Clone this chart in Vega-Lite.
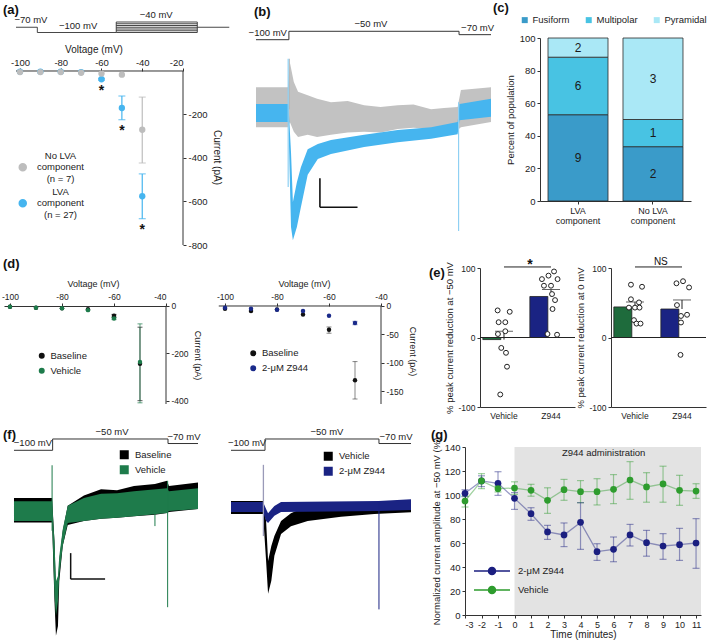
{
"$schema":"https://vega.github.io/schema/vega-lite/v6.json",
"background":"white",
"padding":{"left":1,"top":2,"right":2,"bottom":2},
"config":{
"font":"Liberation Sans",
"view":{"stroke":null},
"axis":{"labelFontSize":9.5,"titleFontSize":10,"titleFontWeight":"normal","labelColor":"#222","titleColor":"#222","domainColor":"#333","tickColor":"#333","grid":false,"tickSize":3,"labelPadding":2,"labelFont":"Liberation Sans","titleFont":"Liberation Sans","labelOverlap":false},
"legend":{"labelFont":"Liberation Sans","labelFontSize":9.5,"labelColor":"#222","padding":0,"titlePadding":0,"symbolOpacity":1},
"title":{"font":"Liberation Sans","fontSize":13,"fontWeight":"bold","anchor":"start","frame":"group","color":"#111"},
"text":{"font":"Liberation Sans","color":"#222"}
},
"datasets":{
"a_seg":[{"t1":0,"t2":100,"v1":-70,"v2":-70},{"t1":100,"t2":100,"v1":-70,"v2":-100},{"t1":100,"t2":470,"v1":-100,"v2":-100},{"t1":470,"t2":850,"v1":-100,"v2":-100},{"t1":470,"t2":850,"v1":-90,"v2":-90},{"t1":470,"t2":850,"v1":-80,"v2":-80},{"t1":470,"t2":850,"v1":-70,"v2":-70},{"t1":470,"t2":850,"v1":-60,"v2":-60},{"t1":470,"t2":850,"v1":-50,"v2":-50},{"t1":470,"t2":850,"v1":-40,"v2":-40},{"t1":470,"t2":470,"v1":-100,"v2":-40},{"t1":850,"t2":850,"v1":-100,"v2":-40},{"t1":850,"t2":1000,"v1":-70,"v2":-70}],
"a_lab":[{"t":70,"v":-70,"label":"−70 mV"},{"t":291,"v":-100,"label":"−100 mV"},{"t":657,"v":-40,"label":"−40 mV"}],
"a_iv":[
{"mv":-100,"grp":"LVA|component|(n = 27)","pa":-3},{"mv":-90,"grp":"LVA|component|(n = 27)","pa":-3},{"mv":-80,"grp":"LVA|component|(n = 27)","pa":-3},{"mv":-70,"grp":"LVA|component|(n = 27)","pa":-5},
{"mv":-60,"grp":"LVA|component|(n = 27)","pa":-38,"lo":-42,"hi":-34,"sig":true},
{"mv":-50,"grp":"LVA|component|(n = 27)","pa":-170,"lo":-224,"hi":-115,"sig":true},
{"mv":-40,"grp":"LVA|component|(n = 27)","pa":-576,"lo":-679,"hi":-473,"sig":true},
{"mv":-100,"grp":"No LVA|component|(n = 7)","pa":-5},{"mv":-90,"grp":"No LVA|component|(n = 7)","pa":-5},{"mv":-80,"grp":"No LVA|component|(n = 7)","pa":-5},{"mv":-70,"grp":"No LVA|component|(n = 7)","pa":-8},{"mv":-60,"grp":"No LVA|component|(n = 7)","pa":-12},{"mv":-50,"grp":"No LVA|component|(n = 7)","pa":-17},
{"mv":-40,"grp":"No LVA|component|(n = 7)","pa":-270,"lo":-423,"hi":-120}],
"b_seg":[{"t1":0,"t2":140,"v1":-100,"v2":-100},{"t1":140,"t2":140,"v1":-100,"v2":-50},{"t1":140,"t2":864,"v1":-50,"v2":-50},{"t1":864,"t2":864,"v1":-50,"v2":-70},{"t1":864,"t2":1000,"v1":-70,"v2":-70}],
"b_lab":[{"t":50,"v":-100,"label":"−100 mV"},{"t":489,"v":-50,"label":"−50 mV"},{"t":943,"v":-70,"label":"−70 mV"}],
"b_gray":[{"t":0,"hi":48,"lo":-21},{"t":136,"hi":48,"lo":-21},{"t":144,"hi":91,"lo":-12},{"t":161,"hi":57,"lo":-29},{"t":179,"hi":40,"lo":-38},{"t":220,"hi":34,"lo":-34},{"t":260,"hi":28,"lo":-38},{"t":319,"hi":22,"lo":-34},{"t":390,"hi":24,"lo":-30},{"t":460,"hi":17,"lo":-29},{"t":530,"hi":14,"lo":-30},{"t":603,"hi":17,"lo":-24},{"t":670,"hi":18,"lo":-22},{"t":745,"hi":10,"lo":-24},{"t":800,"hi":12,"lo":-27},{"t":858,"hi":14,"lo":-26},{"t":872,"hi":43,"lo":-21},{"t":1000,"hi":48,"lo":-12}],
"b_blue":[{"t":0,"hi":19,"lo":-12},{"t":138,"hi":19,"lo":-12},{"t":149,"hi":-64,"lo":-193},{"t":157,"hi":-150,"lo":-216},{"t":174,"hi":-116,"lo":-193},{"t":191,"hi":-90,"lo":-159},{"t":220,"hi":-59,"lo":-103},{"t":263,"hi":-50,"lo":-76},{"t":319,"hi":-43,"lo":-67},{"t":460,"hi":-34,"lo":-55},{"t":603,"hi":-26,"lo":-47},{"t":745,"hi":-21,"lo":-41},{"t":858,"hi":-12,"lo":-33},{"t":866,"hi":19,"lo":-9},{"t":1000,"hi":28,"lo":-3}],
"b_spk":[{"t":137,"cond":"LVA","i1":97,"i2":-124},{"t":142,"cond":"No LVA","i1":97,"i2":10},{"t":862,"cond":"LVA","i1":22,"i2":-200}],
"b_bar":[{"t1":272,"t2":272,"i1":-109,"i2":-159},{"t1":272,"t2":432,"i1":-159,"i2":-159}],
"c":[{"group":"LVA component","cell":"Fusiform","count":9,"pct":52.94},{"group":"LVA component","cell":"Multipolar","count":6,"pct":35.29},{"group":"LVA component","cell":"Pyramidal","count":2,"pct":11.77},{"group":"No LVA component","cell":"Fusiform","count":2,"pct":33.33},{"group":"No LVA component","cell":"Multipolar","count":1,"pct":16.67},{"group":"No LVA component","cell":"Pyramidal","count":3,"pct":50}],
"d1":[{"mv":-100,"cond":"Baseline","pa":-4},{"mv":-90,"cond":"Baseline","pa":-8},{"mv":-80,"cond":"Baseline","pa":-10},{"mv":-70,"cond":"Baseline","pa":-14},{"mv":-60,"cond":"Baseline","pa":-42,"lo":-48,"hi":-36},{"mv":-50,"cond":"Baseline","pa":-244,"lo":-400,"hi":-90},
{"mv":-100,"cond":"Vehicle","pa":-4},{"mv":-90,"cond":"Vehicle","pa":-8},{"mv":-80,"cond":"Vehicle","pa":-10},{"mv":-70,"cond":"Vehicle","pa":-18},{"mv":-60,"cond":"Vehicle","pa":-53,"lo":-58,"hi":-48},{"mv":-50,"cond":"Vehicle","pa":-237,"lo":-409,"hi":-76}],
"d2":[{"mv":-100,"cond":"Baseline","pa":-5},{"mv":-90,"cond":"Baseline","pa":-9},{"mv":-80,"cond":"Baseline","pa":-6},{"mv":-70,"cond":"Baseline","pa":-15},{"mv":-60,"cond":"Baseline","pa":-42,"lo":-48,"hi":-37},{"mv":-50,"cond":"Baseline","pa":-131,"lo":-164,"hi":-98},
{"mv":-100,"cond":"2-μM Z944","pa":-3},{"mv":-90,"cond":"2-μM Z944","pa":-5},{"mv":-80,"cond":"2-μM Z944","pa":-6.5},{"mv":-70,"cond":"2-μM Z944","pa":-9},{"mv":-60,"cond":"2-μM Z944","pa":-17},{"mv":-50,"cond":"2-μM Z944","pa":-30,"lo":-33,"hi":-27}],
"e_bar":[{"panel":"L","grp":"Vehicle","mean":-3,"cap":9},{"panel":"L","grp":"Z944","mean":59,"cap":69},{"panel":"R","grp":"Vehicle","mean":44,"cap":51},{"panel":"R","grp":"Z944","mean":41,"cap":54}],
"e_dot":[
{"panel":"L","grp":"Vehicle","val":39,"jit":-6.3},{"panel":"L","grp":"Vehicle","val":37,"jit":5.7},{"panel":"L","grp":"Vehicle","val":22,"jit":-5.3},{"panel":"L","grp":"Vehicle","val":22,"jit":1.3},{"panel":"L","grp":"Vehicle","val":5,"jit":-6},{"panel":"L","grp":"Vehicle","val":9,"jit":1.3},{"panel":"L","grp":"Vehicle","val":-15,"jit":-2.7},{"panel":"L","grp":"Vehicle","val":-22,"jit":2},{"panel":"L","grp":"Vehicle","val":-42,"jit":3},{"panel":"L","grp":"Vehicle","val":-82,"jit":-3.7},
{"panel":"L","grp":"Z944","val":95,"jit":3},{"panel":"L","grp":"Z944","val":89,"jit":-2.5},{"panel":"L","grp":"Z944","val":84,"jit":6.5},{"panel":"L","grp":"Z944","val":84,"jit":-9},{"panel":"L","grp":"Z944","val":74.5,"jit":-7},{"panel":"L","grp":"Z944","val":74.5,"jit":0},{"panel":"L","grp":"Z944","val":62.5,"jit":1},{"panel":"L","grp":"Z944","val":53.8,"jit":4},{"panel":"L","grp":"Z944","val":41,"jit":1.5},{"panel":"L","grp":"Z944","val":5,"jit":-3.5},{"panel":"L","grp":"Z944","val":4,"jit":6},
{"panel":"R","grp":"Vehicle","val":76,"jit":-4},{"panel":"R","grp":"Vehicle","val":73,"jit":7},{"panel":"R","grp":"Vehicle","val":55,"jit":-4},{"panel":"R","grp":"Vehicle","val":50.5,"jit":4},{"panel":"R","grp":"Vehicle","val":43,"jit":-6},{"panel":"R","grp":"Vehicle","val":43,"jit":0},{"panel":"R","grp":"Vehicle","val":43,"jit":4.5},{"panel":"R","grp":"Vehicle","val":25,"jit":-1},{"panel":"R","grp":"Vehicle","val":20,"jit":1.5},{"panel":"R","grp":"Vehicle","val":20,"jit":5.5},
{"panel":"R","grp":"Z944","val":78,"jit":-5.5},{"panel":"R","grp":"Z944","val":81,"jit":1},{"panel":"R","grp":"Z944","val":72,"jit":7},{"panel":"R","grp":"Z944","val":46.6,"jit":-5},{"panel":"R","grp":"Z944","val":31,"jit":-1},{"panel":"R","grp":"Z944","val":32.7,"jit":5},{"panel":"R","grp":"Z944","val":21.6,"jit":-1},{"panel":"R","grp":"Z944","val":-25,"jit":-1.5}],
"f1_seg":[{"t1":0,"t2":210,"v1":-100,"v2":-100},{"t1":210,"t2":210,"v1":-100,"v2":-50},{"t1":210,"t2":837,"v1":-50,"v2":-50},{"t1":837,"t2":837,"v1":-50,"v2":-70},{"t1":837,"t2":1000,"v1":-70,"v2":-70}],
"f1_lab":[{"t":103,"v":-100,"label":"−100 mV"},{"t":533,"v":-50,"label":"−50 mV"},{"t":924,"v":-70,"label":"−70 mV"}],
"f1_tr":[
{"t":0,"cond":"Baseline","hi":25,"lo":-22},{"t":207,"cond":"Baseline","hi":25,"lo":-22},{"t":220,"cond":"Baseline","hi":-58,"lo":-173},{"t":228,"cond":"Baseline","hi":-154,"lo":-240},{"t":239,"cond":"Baseline","hi":-144,"lo":-221},{"t":246,"cond":"Baseline","hi":-96,"lo":-135},{"t":265,"cond":"Baseline","hi":-38,"lo":-67},{"t":292,"cond":"Baseline","hi":10,"lo":-27},{"t":380,"cond":"Baseline","hi":30,"lo":-19},{"t":473,"cond":"Baseline","hi":42,"lo":-15},{"t":560,"cond":"Baseline","hi":40,"lo":-13},{"t":652,"cond":"Baseline","hi":48,"lo":-10},{"t":766,"cond":"Baseline","hi":52,"lo":-7},{"t":832,"cond":"Baseline","hi":58,"lo":-4},{"t":842,"cond":"Baseline","hi":48,"lo":-2},{"t":1000,"cond":"Baseline","hi":55,"lo":4},
{"t":0,"cond":"Vehicle","hi":19,"lo":-19},{"t":207,"cond":"Vehicle","hi":19,"lo":-19},{"t":220,"cond":"Vehicle","hi":-58,"lo":-163},{"t":228,"cond":"Vehicle","hi":-135,"lo":-202},{"t":239,"cond":"Vehicle","hi":-125,"lo":-173},{"t":246,"cond":"Vehicle","hi":-87,"lo":-125},{"t":265,"cond":"Vehicle","hi":-35,"lo":-67},{"t":292,"cond":"Vehicle","hi":10,"lo":-23},{"t":380,"cond":"Vehicle","hi":25,"lo":-19},{"t":473,"cond":"Vehicle","hi":33,"lo":-15},{"t":560,"cond":"Vehicle","hi":34,"lo":-13},{"t":652,"cond":"Vehicle","hi":38,"lo":-10},{"t":832,"cond":"Vehicle","hi":44,"lo":-4},{"t":842,"cond":"Vehicle","hi":38,"lo":0},{"t":1000,"cond":"Vehicle","hi":44,"lo":4}],
"f1_spk":[{"t":207,"i1":88,"i2":-38},{"t":835,"i1":58,"i2":-185},{"t":766,"i1":0,"i2":-29}],
"f1_bar":[{"t1":308,"t2":308,"i1":-81,"i2":-131},{"t1":308,"t2":495,"i1":-131,"i2":-131}],
"f2_seg":[{"t1":0,"t2":189,"v1":-100,"v2":-100},{"t1":189,"t2":189,"v1":-100,"v2":-50},{"t1":189,"t2":822,"v1":-50,"v2":-50},{"t1":822,"t2":822,"v1":-50,"v2":-70},{"t1":822,"t2":1000,"v1":-70,"v2":-70}],
"f2_lab":[{"t":89,"v":-100,"label":"−100 mV"},{"t":533,"v":-50,"label":"−50 mV"},{"t":917,"v":-70,"label":"−70 mV"}],
"f2_tr":[
{"t":0,"cond":"Vehicle","hi":13.5,"lo":-11.5},{"t":178,"cond":"Vehicle","hi":13.5,"lo":-11.5},{"t":195,"cond":"Vehicle","hi":-25,"lo":-102},{"t":206,"cond":"Vehicle","hi":-102,"lo":-165},{"t":224,"cond":"Vehicle","hi":-73,"lo":-140},{"t":241,"cond":"Vehicle","hi":-54,"lo":-92},{"t":278,"cond":"Vehicle","hi":-25,"lo":-50},{"t":333,"cond":"Vehicle","hi":-10,"lo":-35},{"t":426,"cond":"Vehicle","hi":4,"lo":-25},{"t":611,"cond":"Vehicle","hi":8,"lo":-17},{"t":796,"cond":"Vehicle","hi":11.5,"lo":-11.5},{"t":1000,"cond":"Vehicle","hi":13.5,"lo":-8},
{"t":0,"cond":"2-μM Z944","hi":11.5,"lo":-7.7},{"t":178,"cond":"2-μM Z944","hi":11.5,"lo":-7.7},{"t":195,"cond":"2-μM Z944","hi":-2,"lo":-25},{"t":206,"cond":"2-μM Z944","hi":-10,"lo":-29},{"t":241,"cond":"2-μM Z944","hi":4,"lo":-15},{"t":278,"cond":"2-μM Z944","hi":11.5,"lo":-7.7},{"t":820,"cond":"2-μM Z944","hi":13.5,"lo":-5.8},{"t":1000,"cond":"2-μM Z944","hi":17,"lo":-4}],
"f2_spk":[{"t":180,"cond":"gray","i1":83,"i2":-54},{"t":822,"cond":"navy","i1":13,"i2":-195}],
"g":[
{"min":-3,"cond":"2-μM Z944","mean":101.4,"lo":98.6,"hi":104.4},{"min":-2,"cond":"2-μM Z944","mean":111.7,"lo":107,"hi":116},{"min":-1,"cond":"2-μM Z944","mean":109.7,"lo":99.7,"hi":119.4},{"min":0,"cond":"2-μM Z944","mean":97.2,"lo":88,"hi":102},{"min":1,"cond":"2-μM Z944","mean":84.4,"lo":78.9,"hi":89.4},{"min":2,"cond":"2-μM Z944","mean":69.2,"lo":63,"hi":74.7},{"min":3,"cond":"2-μM Z944","mean":66.7,"lo":57,"hi":76.7},{"min":4,"cond":"2-μM Z944","mean":77.2,"lo":54.7,"hi":93.6},{"min":5,"cond":"2-μM Z944","mean":52.8,"lo":45.5,"hi":59.4},{"min":6,"cond":"2-μM Z944","mean":54.7,"lo":44.4,"hi":65},{"min":7,"cond":"2-μM Z944","mean":66.7,"lo":57.5,"hi":75.5},{"min":8,"cond":"2-μM Z944","mean":60.3,"lo":49,"hi":70.5},{"min":9,"cond":"2-μM Z944","mean":57.5,"lo":46.4,"hi":67.8},{"min":10,"cond":"2-μM Z944","mean":58.6,"lo":45.5,"hi":72.2},{"min":11,"cond":"2-μM Z944","mean":60,"lo":38.9,"hi":80.3},
{"min":-3,"cond":"Vehicle","mean":95,"lo":90,"hi":99},{"min":-2,"cond":"Vehicle","mean":111.7,"lo":105.3,"hi":117.8},{"min":-1,"cond":"Vehicle","mean":105.3,"lo":102.5,"hi":107.5},{"min":0,"cond":"Vehicle","mean":105.8,"lo":100.5,"hi":111},{"min":1,"cond":"Vehicle","mean":103.9,"lo":99,"hi":108.9},{"min":2,"cond":"Vehicle","mean":95.6,"lo":84.7,"hi":106},{"min":3,"cond":"Vehicle","mean":104.4,"lo":95.6,"hi":113},{"min":4,"cond":"Vehicle","mean":102.8,"lo":93.6,"hi":112},{"min":5,"cond":"Vehicle","mean":102.8,"lo":91.7,"hi":113.6},{"min":6,"cond":"Vehicle","mean":104.7,"lo":92.8,"hi":117},{"min":7,"cond":"Vehicle","mean":112.5,"lo":96.4,"hi":127.8},{"min":8,"cond":"Vehicle","mean":106.7,"lo":94,"hi":118.6},{"min":9,"cond":"Vehicle","mean":109.2,"lo":94,"hi":124},{"min":10,"cond":"Vehicle","mean":103.9,"lo":91.4,"hi":116.4},{"min":11,"cond":"Vehicle","mean":103.3,"lo":97.2,"hi":109.4}]
},
"spacing":6,
"resolve":{"scale":{"color":"independent"},"legend":{"color":"independent"}},
"vconcat":[
{"hconcat":[
 {"width":179,"height":207,
  "title":{"text":"(a)","dx":-1,"offset":-7},
  "resolve":{"scale":{"x":"independent","y":"independent"},"axis":{"x":"independent","y":"independent"}},
  "layer":[
   {"layer":[
    {"data":{"name":"a_seg"},"mark":{"type":"rule","color":"#333","strokeWidth":0.9},
     "encoding":{"x":{"field":"t1","type":"quantitative","scale":{"domain":[-56.3,783],"nice":false,"zero":false},"axis":null},"x2":{"field":"t2"},
      "y":{"field":"v1","type":"quantitative","scale":{"domain":[-1314,-131.4],"nice":false,"zero":false},"axis":null},"y2":{"field":"v2"}}},
    {"data":{"name":"a_lab"},"mark":{"type":"text","fontSize":9.5,"baseline":"bottom","dy":-2},
     "encoding":{"x":{"field":"t","type":"quantitative","scale":{"domain":[-56.3,783],"nice":false,"zero":false},"axis":null},
      "y":{"field":"v","type":"quantitative","scale":{"domain":[-1314,-131.4],"nice":false,"zero":false},"axis":null},"text":{"field":"label"}}}
   ]},
   {"data":{"name":"a_iv"},
    "layer":[
     {"data":{"values":[{}]},"mark":{"type":"rule","color":"#333"},
      "encoding":{"x":{"datum":-20,"type":"quantitative","scale":{"domain":[-107.85,-20],"nice":false,"zero":false},
        "axis":{"orient":"top","offset":-33,"domain":false,"values":[-100,-80,-60,-40,-20],"labelOverlap":false,"title":"Voltage (mV)","titlePadding":3,"labelPadding":1,"labelExpr":"datum.value + ''"}},
       "y":{"datum":0,"type":"quantitative","scale":{"domain":[-800,151.7],"nice":false,"zero":false},
        "axis":{"orient":"right","values":[-800,-600,-400,-200],"labelOverlap":false,"domain":false,"title":"Current (pA)","titleY":119,"labelExpr":"datum.value + ''"}},
       "y2":{"datum":-800}}},
     {"data":{"values":[{}]},"mark":{"type":"rule","color":"#333"},
      "encoding":{"x":{"datum":-101.96,"type":"quantitative","scale":{"domain":[-107.85,-20],"nice":false,"zero":false}},"x2":{"datum":-20},
       "y":{"datum":0,"type":"quantitative","scale":{"domain":[-800,151.7],"nice":false,"zero":false}}}},
     {"transform":[{"filter":"isValid(datum.lo)"}],"mark":{"type":"errorbar","ticks":{"size":7},"thickness":1.2},
      "encoding":{"x":{"field":"mv","type":"quantitative","title":"Voltage (mV)","scale":{"domain":[-107.85,-20],"nice":false,"zero":false}},
       "y":{"field":"lo","type":"quantitative","title":"Current (pA)","scale":{"domain":[-800,151.7],"nice":false,"zero":false}},"y2":{"field":"hi"},
       "color":{"field":"grp","type":"nominal","scale":{"domain":["No LVA|component|(n = 7)","LVA|component|(n = 27)"],"range":["#bdbdbd","#46b5ef"]},
        "legend":{"orient":"none","legendX":14,"legendY":113,"title":null,"labelExpr":"split(datum.label, '|')","labelAlign":"center","labelOffset":33,"symbolSize":40,"symbolType":"M-1.107,3.64A1.107,1.107,0,1,1,1.107,3.64A1.107,1.107,0,1,1,-1.107,3.64Z","rowPadding":2,"labelLimit":0}}}},
     {"mark":{"type":"circle","size":40,"opacity":1},
      "encoding":{"x":{"field":"mv","type":"quantitative","title":"Voltage (mV)","scale":{"domain":[-107.85,-20],"nice":false,"zero":false}},
       "y":{"field":"pa","type":"quantitative","title":"Current (pA)","scale":{"domain":[-800,151.7],"nice":false,"zero":false}},
       "color":{"field":"grp","type":"nominal","scale":{"domain":["No LVA|component|(n = 7)","LVA|component|(n = 27)"],"range":["#bdbdbd","#46b5ef"]},
        "legend":{"orient":"none","legendX":14,"legendY":113,"title":null,"labelExpr":"split(datum.label, '|')","labelAlign":"center","labelOffset":33,"symbolSize":40,"symbolType":"M-1.107,3.64A1.107,1.107,0,1,1,1.107,3.64A1.107,1.107,0,1,1,-1.107,3.64Z","rowPadding":2,"labelLimit":0}}}},
     {"transform":[{"filter":"datum.sig"}],"mark":{"type":"text","text":"*","fontSize":14,"fontWeight":"bold","baseline":"top","dy":4,"color":"#111"},
      "encoding":{"x":{"field":"mv","type":"quantitative","title":"Voltage (mV)","scale":{"domain":[-107.85,-20],"nice":false,"zero":false}},
       "y":{"field":"lo","type":"quantitative","title":"Current (pA)","scale":{"domain":[-800,151.7],"nice":false,"zero":false}}}}
    ]}
  ]},
 {"width":317,"height":207,
  "title":{"text":"(b)","dx":51,"offset":0},
  "resolve":{"scale":{"y":"independent"}},
  "layer":[
   {"layer":[
    {"data":{"name":"b_seg"},"mark":{"type":"rule","color":"#333","strokeWidth":1},
     "encoding":{"x":{"field":"t1","type":"quantitative","scale":{"domain":[-225.5,1123.4],"nice":false,"zero":false},"axis":null},"x2":{"field":"t2"},
      "y":{"field":"v1","type":"quantitative","scale":{"domain":[-1322,-89.9],"nice":false,"zero":false},"axis":null},"y2":{"field":"v2"}}},
    {"data":{"name":"b_lab"},"mark":{"type":"text","fontSize":9.5,"baseline":"bottom","dy":-2},
     "encoding":{"x":{"field":"t","type":"quantitative","scale":{"domain":[-225.5,1123.4],"nice":false,"zero":false},"axis":null},
      "y":{"field":"v","type":"quantitative","scale":{"domain":[-1322,-89.9],"nice":false,"zero":false},"axis":null},"text":{"field":"label"}}}
   ]},
   {"layer":[
    {"data":{"name":"b_gray"},"mark":{"type":"area","color":"#c2c2c2","opacity":1},
     "encoding":{"x":{"field":"t","type":"quantitative","scale":{"domain":[-225.5,1123.4],"nice":false,"zero":false},"axis":null},
      "y":{"field":"hi","type":"quantitative","stack":null,"scale":{"domain":[-224.1,132.8],"nice":false,"zero":false},"axis":null},"y2":{"field":"lo"}}},
    {"data":{"name":"b_spk"},"transform":[{"filter":"datum.cond == 'No LVA'"}],"mark":{"type":"rule","color":"#b5b5b5","strokeWidth":1},
     "encoding":{"x":{"field":"t","type":"quantitative","scale":{"domain":[-225.5,1123.4],"nice":false,"zero":false},"axis":null},
      "y":{"field":"i1","type":"quantitative","scale":{"domain":[-224.1,132.8],"nice":false,"zero":false},"axis":null},"y2":{"field":"i2"}}},
    {"data":{"name":"b_blue"},"mark":{"type":"area","color":"#46b5ef","opacity":1},
     "encoding":{"x":{"field":"t","type":"quantitative","scale":{"domain":[-225.5,1123.4],"nice":false,"zero":false},"axis":null},
      "y":{"field":"hi","type":"quantitative","stack":null,"scale":{"domain":[-224.1,132.8],"nice":false,"zero":false},"axis":null},"y2":{"field":"lo"}}},
    {"data":{"name":"b_spk"},"transform":[{"filter":"datum.cond == 'LVA'"}],"mark":{"type":"rule","color":"#8fd0f3","strokeWidth":1.2},
     "encoding":{"x":{"field":"t","type":"quantitative","scale":{"domain":[-225.5,1123.4],"nice":false,"zero":false},"axis":null},
      "y":{"field":"i1","type":"quantitative","scale":{"domain":[-224.1,132.8],"nice":false,"zero":false},"axis":null},"y2":{"field":"i2"}}},
    {"data":{"name":"b_bar"},"mark":{"type":"rule","color":"#111","strokeWidth":1.6},
     "encoding":{"x":{"field":"t1","type":"quantitative","scale":{"domain":[-225.5,1123.4],"nice":false,"zero":false},"axis":null},"x2":{"field":"t2"},
      "y":{"field":"i1","type":"quantitative","scale":{"domain":[-224.1,132.8],"nice":false,"zero":false},"axis":null},"y2":{"field":"i2"}}}
   ]}
  ]},
 {"width":151,"height":163,
  "title":{"text":"(c)","dx":-47,"offset":0},
  "data":{"name":"c"},
  "layer":[
   {"mark":{"type":"bar","stroke":"#2a2a2a","strokeWidth":0.8,"size":60},
    "encoding":{
     "x":{"field":"group","type":"nominal","scale":{"type":"band","paddingInner":0.2,"paddingOuter":0.107},
      "axis":{"title":null,"labelAngle":0,"labelExpr":"datum.label == 'LVA component' ? ['LVA', 'component'] : ['No LVA', 'component']","labelFontSize":9,"labelLineHeight":10,"tickSize":3}},
     "y":{"field":"pct","type":"quantitative","stack":"zero","scale":{"domain":[0,100],"nice":false},
      "axis":{"title":"Percent of population","values":[0,20,40,60,80,100],"labelOverlap":false,"titlePadding":4,"titleFontSize":9.5}},
     "color":{"field":"cell","type":"nominal","scale":{"domain":["Fusiform","Multipolar","Pyramidal"],"range":["#3a9bc9","#48c3e3","#aae8f6"]},
      "legend":{"orient":"none","legendX":-20,"legendY":-23,"direction":"horizontal","title":null,"symbolType":"square","symbolSize":36,"symbolStrokeWidth":0,"labelOffset":3,"columnPadding":14}},
     "order":{"field":"cell","type":"nominal","sort":"ascending"}}},
   {"transform":[
     {"stack":"pct","groupby":["group"],"sort":[{"field":"cell","order":"ascending"}],"as":["lo","hi"]},
     {"fold":["lo","hi"],"as":["edge","pos"]},
     {"aggregate":[{"op":"mean","field":"pos","as":"mid"}],"groupby":["group","cell","count"]}],
    "mark":{"type":"text","fontSize":12,"baseline":"middle","color":"#1a1a1a"},
    "encoding":{"x":{"field":"group","type":"nominal","scale":{"type":"band","paddingInner":0.2,"paddingOuter":0.107}},
     "y":{"field":"mid","type":"quantitative","title":"Percent of population","scale":{"domain":[0,100],"nice":false},"axis":{"title":"Percent of population","values":[0,20,40,60,80,100],"labelOverlap":false,"titlePadding":4,"titleFontSize":9.5}},"text":{"field":"count","type":"quantitative"}}}
  ]}
],"spacing":20,"bounds":"flush","resolve":{"scale":{"color":"independent"},"legend":{"color":"independent"}}},
{"hconcat":[
 {"width":162,"height":136,
  "title":{"text":"(d)","dx":-1,"offset":-3},
  "data":{"name":"d1"},
  "layer":[
   {"data":{"values":[{}]},"mark":{"type":"rule","color":"#333"},
    "encoding":{"x":{"datum":-40,"type":"quantitative","scale":{"domain":[-102.3,-40],"nice":false,"zero":false},
      "axis":{"orient":"top","offset":-38,"values":[-100,-80,-60,-40],"labelOverlap":false,"title":"Voltage (mV)","titleX":89,"titlePadding":4,"labelFontSize":8.5,"titleFontSize":9,"labelExpr":"datum.value + ''"}},
     "y":{"datum":0,"type":"quantitative","scale":{"domain":[-414,159.7],"nice":false,"zero":false},
      "axis":{"orient":"right","values":[0,-100,-200,-300,-400],"labelOverlap":false,"domain":false,"title":"Current (pA)","titleY":87,"labelFontSize":8.5,"titleFontSize":9,"labelExpr":"datum.value + ''"}},
     "y2":{"datum":-414}}},
   {"transform":[{"filter":"isValid(datum.lo)"}],"mark":{"type":"errorbar","ticks":{"size":5},"opacity":0.7},
    "encoding":{"x":{"field":"mv","type":"quantitative","title":"Voltage (mV)","scale":{"domain":[-102.3,-40],"nice":false,"zero":false}},
     "y":{"field":"lo","type":"quantitative","title":"Current (pA)","scale":{"domain":[-414,159.7],"nice":false,"zero":false}},"y2":{"field":"hi"},
     "color":{"field":"cond","type":"nominal","scale":{"domain":["Baseline","Vehicle"],"range":["#111111","#1e7b4b"]},
      "legend":{"orient":"none","legendX":33,"legendY":83,"title":null,"symbolType":"circle","symbolSize":20,"rowPadding":4,"labelOffset":4}}}},
   {"mark":{"type":"circle","size":20,"opacity":1},
    "encoding":{"x":{"field":"mv","type":"quantitative","title":"Voltage (mV)","scale":{"domain":[-102.3,-40],"nice":false,"zero":false}},
     "y":{"field":"pa","type":"quantitative","title":"Current (pA)","scale":{"domain":[-414,159.7],"nice":false,"zero":false}},
     "color":{"field":"cond","type":"nominal","scale":{"domain":["Baseline","Vehicle"],"range":["#111111","#1e7b4b"]},
      "legend":{"orient":"none","legendX":33,"legendY":83,"title":null,"symbolType":"circle","symbolSize":20,"rowPadding":4,"labelOffset":4}}}}
  ]},
 {"width":242,"height":136,
  "data":{"name":"d2"},
  "layer":[
   {"data":{"values":[{}]},"mark":{"type":"rule","color":"#333"},
    "encoding":{"x":{"datum":-40,"type":"quantitative","scale":{"domain":[-108.85,-15.77],"nice":false,"zero":false},
      "axis":{"orient":"top","offset":-38,"domain":false,"values":[-100,-80,-60,-40],"labelOverlap":false,"title":"Voltage (mV)","titleX":102,"titlePadding":4,"labelFontSize":8.5,"titleFontSize":9,"labelExpr":"datum.value + ''"}},
     "y":{"datum":0,"type":"quantitative","scale":{"domain":[-172.8,67],"nice":false,"zero":false},
      "axis":{"orient":"right","offset":-63,"values":[0,-50,-100,-150],"labelOverlap":false,"domain":false,"title":"Current (pA)","titleY":83,"labelFontSize":8.5,"titleFontSize":9,"labelExpr":"datum.value + ''"}},
     "y2":{"datum":-172.8}}},
   {"data":{"values":[{}]},"mark":{"type":"rule","color":"#333"},
    "encoding":{"x":{"datum":-102.4,"type":"quantitative","scale":{"domain":[-108.85,-15.77],"nice":false,"zero":false}},"x2":{"datum":-40},
     "y":{"datum":0,"type":"quantitative","scale":{"domain":[-172.8,67],"nice":false,"zero":false}}}},
   {"transform":[{"filter":"isValid(datum.lo)"}],"mark":{"type":"errorbar","ticks":{"size":5},"opacity":0.5},
    "encoding":{"x":{"field":"mv","type":"quantitative","title":"Voltage (mV)","scale":{"domain":[-108.85,-15.77],"nice":false,"zero":false}},
     "y":{"field":"lo","type":"quantitative","title":"Current (pA)","scale":{"domain":[-172.8,67],"nice":false,"zero":false}},"y2":{"field":"hi"},
     "color":{"field":"cond","type":"nominal","scale":{"domain":["Baseline","2-μM Z944"],"range":["#111111","#1a2a8a"]},
      "legend":{"orient":"none","legendX":46.5,"legendY":80.5,"title":null,"symbolType":"circle","symbolSize":20,"rowPadding":4,"labelOffset":4}}}},
   {"mark":{"type":"circle","size":20,"opacity":1},
    "encoding":{"x":{"field":"mv","type":"quantitative","title":"Voltage (mV)","scale":{"domain":[-108.85,-15.77],"nice":false,"zero":false}},
     "y":{"field":"pa","type":"quantitative","title":"Current (pA)","scale":{"domain":[-172.8,67],"nice":false,"zero":false}},
     "color":{"field":"cond","type":"nominal","scale":{"domain":["Baseline","2-μM Z944"],"range":["#111111","#1a2a8a"]},
      "legend":{"orient":"none","legendX":46.5,"legendY":80.5,"title":null,"symbolType":"circle","symbolSize":20,"rowPadding":4,"labelOffset":4}}}}
  ]},
 {"width":95,"height":139,
  "title":{"text":"(e)","dx":-51,"offset":-22},
  "layer":[
   {"data":{"name":"e_bar"},"transform":[{"filter":"datum.panel == 'L'"}],"mark":{"type":"bar","stroke":"#222","strokeWidth":0.8},
    "encoding":{"x":{"field":"grp","type":"nominal","scale":{"domain":["Vehicle","Z944"],"paddingInner":0.1,"paddingOuter":0.06},"axis":{"title":null,"labelAngle":0,"ticks":false,"labelFontSize":8.5,"labelPadding":4}},
     "y":{"field":"mean","type":"quantitative","scale":{"domain":[-100,100],"nice":false},"axis":{"values":[-100,-50,0,50,100],"labelOverlap":false,"title":"% peak current reduction at −50 mV","titleFontSize":9.5,"labelFontSize":8.5,"titlePadding":3,"labelExpr":"datum.value + ''"}},
     "color":{"field":"grp","type":"nominal","scale":{"domain":["Vehicle","Z944"],"range":["#1e6b3c","#1a2383"]},"legend":null}}},
   {"data":{"values":[{}]},"mark":{"type":"rule","color":"#222"},"encoding":{"y":{"datum":0,"type":"quantitative","scale":{"domain":[-100,100],"nice":false}}}},
   {"data":{"name":"e_bar"},"transform":[{"filter":"datum.panel == 'L'"}],"mark":{"type":"rule","color":"#222"},
    "encoding":{"x":{"field":"grp","type":"nominal","scale":{"domain":["Vehicle","Z944"],"paddingInner":0.1,"paddingOuter":0.06}},"y":{"field":"mean","type":"quantitative","scale":{"domain":[-100,100],"nice":false}},"y2":{"field":"cap"}}},
   {"data":{"name":"e_bar"},"transform":[{"filter":"datum.panel == 'L'"}],"mark":{"type":"tick","color":"#222","size":18,"thickness":1},
    "encoding":{"x":{"field":"grp","type":"nominal","scale":{"domain":["Vehicle","Z944"],"paddingInner":0.1,"paddingOuter":0.06}},"y":{"field":"cap","type":"quantitative","scale":{"domain":[-100,100],"nice":false}}}},
   {"data":{"name":"e_dot"},"transform":[{"filter":"datum.panel == 'L'"}],"mark":{"type":"point","filled":true,"fill":"white","stroke":"#222","strokeWidth":1,"size":24,"opacity":1},
    "encoding":{"x":{"field":"grp","type":"nominal","scale":{"domain":["Vehicle","Z944"],"paddingInner":0.1,"paddingOuter":0.06}},"xOffset":{"field":"jit","type":"quantitative","scale":{"domain":[-21,21]}},
     "y":{"field":"val","type":"quantitative","scale":{"domain":[-100,100],"nice":false}}}},
   {"data":{"values":[{"a":"Vehicle","b":"Z944"}]},"mark":{"type":"rule","color":"#222"},
    "encoding":{"x":{"field":"a","type":"nominal","scale":{"domain":["Vehicle","Z944"],"paddingInner":0.1,"paddingOuter":0.06}},"x2":{"field":"b"},"y":{"datum":101.5,"type":"quantitative","scale":{"domain":[-100,100],"nice":false}}}},
   {"data":{"values":[{"a":"Z944"}]},"mark":{"type":"text","text":"*","fontSize":14,"fontWeight":"bold","baseline":"middle","color":"#111"},
    "encoding":{"x":{"field":"a","type":"nominal","bandPosition":0,"scale":{"domain":["Vehicle","Z944"],"paddingInner":0.1,"paddingOuter":0.06}},"y":{"datum":105,"type":"quantitative","scale":{"domain":[-100,100],"nice":false}}}}
  ]},
 {"width":95,"height":139,
  "layer":[
   {"data":{"name":"e_bar"},"transform":[{"filter":"datum.panel == 'R'"}],"mark":{"type":"bar","stroke":"#222","strokeWidth":0.8},
    "encoding":{"x":{"field":"grp","type":"nominal","scale":{"domain":["Vehicle","Z944"],"paddingInner":0.1,"paddingOuter":0.06},"axis":{"title":null,"labelAngle":0,"ticks":false,"labelFontSize":8.5,"labelPadding":4}},
     "y":{"field":"mean","type":"quantitative","scale":{"domain":[-100,100],"nice":false},"axis":{"values":[-100,-50,0,50,100],"labelOverlap":false,"title":"% peak current reduction at 0 mV","titleFontSize":9.5,"labelFontSize":8.5,"titlePadding":3,"labelExpr":"datum.value + ''"}},
     "color":{"field":"grp","type":"nominal","scale":{"domain":["Vehicle","Z944"],"range":["#1e6b3c","#1a2383"]},"legend":null}}},
   {"data":{"values":[{}]},"mark":{"type":"rule","color":"#222"},"encoding":{"y":{"datum":0,"type":"quantitative","scale":{"domain":[-100,100],"nice":false}}}},
   {"data":{"name":"e_bar"},"transform":[{"filter":"datum.panel == 'R'"}],"mark":{"type":"rule","color":"#222"},
    "encoding":{"x":{"field":"grp","type":"nominal","scale":{"domain":["Vehicle","Z944"],"paddingInner":0.1,"paddingOuter":0.06}},"y":{"field":"mean","type":"quantitative","scale":{"domain":[-100,100],"nice":false}},"y2":{"field":"cap"}}},
   {"data":{"name":"e_bar"},"transform":[{"filter":"datum.panel == 'R'"}],"mark":{"type":"tick","color":"#222","size":18,"thickness":1},
    "encoding":{"x":{"field":"grp","type":"nominal","scale":{"domain":["Vehicle","Z944"],"paddingInner":0.1,"paddingOuter":0.06}},"y":{"field":"cap","type":"quantitative","scale":{"domain":[-100,100],"nice":false}}}},
   {"data":{"name":"e_dot"},"transform":[{"filter":"datum.panel == 'R'"}],"mark":{"type":"point","filled":true,"fill":"white","stroke":"#222","strokeWidth":1,"size":24,"opacity":1},
    "encoding":{"x":{"field":"grp","type":"nominal","scale":{"domain":["Vehicle","Z944"],"paddingInner":0.1,"paddingOuter":0.06}},"xOffset":{"field":"jit","type":"quantitative","scale":{"domain":[-21,21]}},
     "y":{"field":"val","type":"quantitative","scale":{"domain":[-100,100],"nice":false}}}},
   {"data":{"values":[{"a":"Vehicle","b":"Z944"}]},"mark":{"type":"rule","color":"#222"},
    "encoding":{"x":{"field":"a","type":"nominal","scale":{"domain":["Vehicle","Z944"],"paddingInner":0.1,"paddingOuter":0.06}},"x2":{"field":"b"},"y":{"datum":101.5,"type":"quantitative","scale":{"domain":[-100,100],"nice":false}}}},
   {"data":{"values":[{"a":"Z944"}]},"mark":{"type":"text","text":"NS","fontSize":10,"baseline":"middle","color":"#111"},
    "encoding":{"x":{"field":"a","type":"nominal","bandPosition":0,"scale":{"domain":["Vehicle","Z944"],"paddingInner":0.1,"paddingOuter":0.06}},"y":{"datum":108.7,"type":"quantitative","scale":{"domain":[-100,100],"nice":false}}}}
  ]}
],"spacing":36,"bounds":"flush","resolve":{"scale":{"color":"independent"},"legend":{"color":"independent"}}},
{"hconcat":[
 {"width":194,"height":194,
  "title":{"text":"(f)","dx":-1,"offset":-15},
  "resolve":{"scale":{"y":"independent"}},
  "layer":[
   {"layer":[
    {"data":{"name":"f1_seg"},"mark":{"type":"rule","color":"#333","strokeWidth":1},
     "encoding":{"x":{"field":"t1","type":"quantitative","scale":{"domain":[-54.3,1000],"nice":false,"zero":false},"axis":null},"x2":{"field":"t2"},
      "y":{"field":"v1","type":"quantitative","scale":{"domain":[-943.8,-85.4],"nice":false,"zero":false},"axis":null},"y2":{"field":"v2"}}},
    {"data":{"name":"f1_lab"},"mark":{"type":"text","fontSize":9.5,"baseline":"bottom","dy":-2},
     "encoding":{"x":{"field":"t","type":"quantitative","scale":{"domain":[-54.3,1000],"nice":false,"zero":false},"axis":null},
      "y":{"field":"v","type":"quantitative","scale":{"domain":[-943.8,-85.4],"nice":false,"zero":false},"axis":null},"text":{"field":"label"}}}
   ]},
   {"layer":[
    {"data":{"name":"f1_tr"},"mark":{"type":"area","opacity":1},
     "encoding":{"x":{"field":"t","type":"quantitative","scale":{"domain":[-54.3,1000],"nice":false,"zero":false},"axis":null},
      "y":{"field":"hi","type":"quantitative","stack":null,"scale":{"domain":[-250,123.1],"nice":false,"zero":false},"axis":null},"y2":{"field":"lo"},
      "color":{"field":"cond","type":"nominal","scale":{"domain":["Baseline","Vehicle"],"range":["#000000","#1e7b4b"]},
       "legend":{"orient":"none","legendX":115.5,"legendY":3,"title":null,"symbolType":"square","symbolSize":81,"symbolStrokeWidth":0,"labelOffset":6,"rowPadding":4}}}},
    {"data":{"name":"f1_spk"},"mark":{"type":"rule","color":"#1e7b4b","strokeWidth":1},
     "encoding":{"x":{"field":"t","type":"quantitative","scale":{"domain":[-54.3,1000],"nice":false,"zero":false},"axis":null},
      "y":{"field":"i1","type":"quantitative","scale":{"domain":[-250,123.1],"nice":false,"zero":false},"axis":null},"y2":{"field":"i2"}}},
    {"data":{"name":"f1_bar"},"mark":{"type":"rule","color":"#111","strokeWidth":1.5},
     "encoding":{"x":{"field":"t1","type":"quantitative","scale":{"domain":[-54.3,1000],"nice":false,"zero":false},"axis":null},"x2":{"field":"t2"},
      "y":{"field":"i1","type":"quantitative","scale":{"domain":[-250,123.1],"nice":false,"zero":false},"axis":null},"y2":{"field":"i2"}}}
   ]}
  ]},
 {"width":201,"height":194,
  "resolve":{"scale":{"y":"independent"}},
  "layer":[
   {"layer":[
    {"data":{"name":"f2_seg"},"mark":{"type":"rule","color":"#333","strokeWidth":1},
     "encoding":{"x":{"field":"t1","type":"quantitative","scale":{"domain":[0,1116.7],"nice":false,"zero":false},"axis":null},"x2":{"field":"t2"},
      "y":{"field":"v1","type":"quantitative","scale":{"domain":[-943.8,-85.4],"nice":false,"zero":false},"axis":null},"y2":{"field":"v2"}}},
    {"data":{"name":"f2_lab"},"mark":{"type":"text","fontSize":9.5,"baseline":"bottom","dy":-2},
     "encoding":{"x":{"field":"t","type":"quantitative","scale":{"domain":[0,1116.7],"nice":false,"zero":false},"axis":null},
      "y":{"field":"v","type":"quantitative","scale":{"domain":[-943.8,-85.4],"nice":false,"zero":false},"axis":null},"text":{"field":"label"}}}
   ]},
   {"layer":[
    {"data":{"name":"f2_tr"},"mark":{"type":"area","opacity":1},
     "encoding":{"x":{"field":"t","type":"quantitative","scale":{"domain":[0,1116.7],"nice":false,"zero":false},"axis":null},
      "y":{"field":"hi","type":"quantitative","stack":null,"scale":{"domain":[-255.8,117.3],"nice":false,"zero":false},"axis":null},"y2":{"field":"lo"},
      "color":{"field":"cond","type":"nominal","scale":{"domain":["Vehicle","2-μM Z944"],"range":["#000000","#1a2383"]},
       "legend":{"orient":"none","legendX":92.5,"legendY":4.5,"title":null,"symbolType":"square","symbolSize":81,"symbolStrokeWidth":0,"labelOffset":6,"rowPadding":4}}}},
    {"data":{"name":"f2_spk"},"transform":[{"filter":"datum.cond == 'gray'"}],"mark":{"type":"rule","color":"#9a9ab8","strokeWidth":1.3},
     "encoding":{"x":{"field":"t","type":"quantitative","scale":{"domain":[0,1116.7],"nice":false,"zero":false},"axis":null},
      "y":{"field":"i1","type":"quantitative","scale":{"domain":[-255.8,117.3],"nice":false,"zero":false},"axis":null},"y2":{"field":"i2"}}},
    {"data":{"name":"f2_spk"},"transform":[{"filter":"datum.cond == 'navy'"}],"mark":{"type":"rule","color":"#1a2383","strokeWidth":1},
     "encoding":{"x":{"field":"t","type":"quantitative","scale":{"domain":[0,1116.7],"nice":false,"zero":false},"axis":null},
      "y":{"field":"i1","type":"quantitative","scale":{"domain":[-255.8,117.3],"nice":false,"zero":false},"axis":null},"y2":{"field":"i2"}}}
   ]}
  ]},
 {"width":236,"height":168,
  "title":{"text":"(g)","dx":-34,"offset":-5},
  "layer":[
   {"data":{"values":[{}]},"mark":{"type":"rect","color":"#e3e3e3"},
    "encoding":{"x":{"datum":0,"type":"quantitative","scale":{"domain":[-3,11.3],"nice":false,"zero":false},
      "axis":{"values":[-3,-2,-1,0,1,2,3,4,5,6,7,8,9,10,11],"labelOverlap":false,"labelFontSize":9,"title":"Time (minutes)","titlePadding":0,"labelExpr":"datum.value + ''"}},"x2":{"datum":11.3},
     "y":{"datum":0,"type":"quantitative","scale":{"domain":[0,140],"nice":false},
      "axis":{"values":[0,20,40,60,80,100,120,140],"labelOverlap":false,"title":"Normalized current amplitude at −50 mV (%)","titleFontSize":9.5,"titlePadding":3}},"y2":{"datum":140}}},
   {"data":{"values":[{}]},"mark":{"type":"text","text":"Z944 administration","fontSize":9.5,"baseline":"middle","color":"#222"},
    "encoding":{"x":{"datum":5.4,"type":"quantitative","scale":{"domain":[-3,11.3],"nice":false,"zero":false},"axis":{"values":[-3,-2,-1,0,1,2,3,4,5,6,7,8,9,10,11],"labelOverlap":false,"labelFontSize":9,"title":"Time (minutes)","titlePadding":0,"labelExpr":"datum.value + ''"}},
     "y":{"datum":135.3,"type":"quantitative","scale":{"domain":[0,140],"nice":false},"axis":{"values":[0,20,40,60,80,100,120,140],"labelOverlap":false,"title":"Normalized current amplitude at −50 mV (%)","titleFontSize":9.5,"titlePadding":3}}}},
   {"data":{"name":"g"},"mark":{"type":"rule","opacity":0.45,"strokeWidth":1.2},
    "encoding":{"x":{"field":"min","type":"quantitative","scale":{"domain":[-3,11.3],"nice":false,"zero":false},"axis":{"values":[-3,-2,-1,0,1,2,3,4,5,6,7,8,9,10,11],"labelOverlap":false,"labelFontSize":9,"title":"Time (minutes)","titlePadding":0,"labelExpr":"datum.value + ''"}},
     "y":{"field":"lo","type":"quantitative","scale":{"domain":[0,140],"nice":false},"axis":{"values":[0,20,40,60,80,100,120,140],"labelOverlap":false,"title":"Normalized current amplitude at −50 mV (%)","titleFontSize":9.5,"titlePadding":3}},"y2":{"field":"hi"},
     "color":{"field":"cond","type":"nominal","scale":{"domain":["2-μM Z944","Vehicle"],"range":["#1b1f80","#2e9c2e"]},
      "legend":{"orient":"none","legendX":21,"legendY":118,"title":null,"symbolType":"M-3.6,0L3.6,0M0.7,0A0.7,0.7,0,1,1,-0.7,0A0.7,0.7,0,1,1,0.7,0","symbolSize":100,"labelOffset":20,"rowPadding":5}}}},
   {"data":{"name":"g"},"mark":{"type":"tick","orient":"horizontal","size":7,"thickness":1.2,"opacity":0.45},
    "encoding":{"x":{"field":"min","type":"quantitative","scale":{"domain":[-3,11.3],"nice":false,"zero":false},"axis":{"values":[-3,-2,-1,0,1,2,3,4,5,6,7,8,9,10,11],"labelOverlap":false,"labelFontSize":9,"title":"Time (minutes)","titlePadding":0,"labelExpr":"datum.value + ''"}},
     "y":{"field":"lo","type":"quantitative","scale":{"domain":[0,140],"nice":false},"axis":{"values":[0,20,40,60,80,100,120,140],"labelOverlap":false,"title":"Normalized current amplitude at −50 mV (%)","titleFontSize":9.5,"titlePadding":3}},
     "color":{"field":"cond","type":"nominal","scale":{"domain":["2-μM Z944","Vehicle"],"range":["#1b1f80","#2e9c2e"]},
      "legend":{"orient":"none","legendX":21,"legendY":118,"title":null,"symbolType":"M-3.6,0L3.6,0M0.7,0A0.7,0.7,0,1,1,-0.7,0A0.7,0.7,0,1,1,0.7,0","symbolSize":100,"labelOffset":20,"rowPadding":5}}}},
   {"data":{"name":"g"},"mark":{"type":"tick","orient":"horizontal","size":7,"thickness":1.2,"opacity":0.45},
    "encoding":{"x":{"field":"min","type":"quantitative","scale":{"domain":[-3,11.3],"nice":false,"zero":false},"axis":{"values":[-3,-2,-1,0,1,2,3,4,5,6,7,8,9,10,11],"labelOverlap":false,"labelFontSize":9,"title":"Time (minutes)","titlePadding":0,"labelExpr":"datum.value + ''"}},
     "y":{"field":"hi","type":"quantitative","scale":{"domain":[0,140],"nice":false},"axis":{"values":[0,20,40,60,80,100,120,140],"labelOverlap":false,"title":"Normalized current amplitude at −50 mV (%)","titleFontSize":9.5,"titlePadding":3}},
     "color":{"field":"cond","type":"nominal","scale":{"domain":["2-μM Z944","Vehicle"],"range":["#1b1f80","#2e9c2e"]},
      "legend":{"orient":"none","legendX":21,"legendY":118,"title":null,"symbolType":"M-3.6,0L3.6,0M0.7,0A0.7,0.7,0,1,1,-0.7,0A0.7,0.7,0,1,1,0.7,0","symbolSize":100,"labelOffset":20,"rowPadding":5}}}},
   {"data":{"name":"g"},"mark":{"type":"line","opacity":0.45,"strokeWidth":1.3},
    "encoding":{"x":{"field":"min","type":"quantitative","scale":{"domain":[-3,11.3],"nice":false,"zero":false},"axis":{"values":[-3,-2,-1,0,1,2,3,4,5,6,7,8,9,10,11],"labelOverlap":false,"labelFontSize":9,"title":"Time (minutes)","titlePadding":0,"labelExpr":"datum.value + ''"}},
     "y":{"field":"mean","type":"quantitative","scale":{"domain":[0,140],"nice":false},"axis":{"values":[0,20,40,60,80,100,120,140],"labelOverlap":false,"title":"Normalized current amplitude at −50 mV (%)","titleFontSize":9.5,"titlePadding":3}},
     "color":{"field":"cond","type":"nominal","scale":{"domain":["2-μM Z944","Vehicle"],"range":["#1b1f80","#2e9c2e"]},
      "legend":{"orient":"none","legendX":21,"legendY":118,"title":null,"symbolType":"M-3.6,0L3.6,0M0.7,0A0.7,0.7,0,1,1,-0.7,0A0.7,0.7,0,1,1,0.7,0","symbolSize":100,"labelOffset":20,"rowPadding":5}}}},
   {"data":{"name":"g"},"mark":{"type":"circle","size":45,"opacity":1},
    "encoding":{"x":{"field":"min","type":"quantitative","scale":{"domain":[-3,11.3],"nice":false,"zero":false},"axis":{"values":[-3,-2,-1,0,1,2,3,4,5,6,7,8,9,10,11],"labelOverlap":false,"labelFontSize":9,"title":"Time (minutes)","titlePadding":0,"labelExpr":"datum.value + ''"}},
     "y":{"field":"mean","type":"quantitative","scale":{"domain":[0,140],"nice":false},"axis":{"values":[0,20,40,60,80,100,120,140],"labelOverlap":false,"title":"Normalized current amplitude at −50 mV (%)","titleFontSize":9.5,"titlePadding":3}},
     "color":{"field":"cond","type":"nominal","scale":{"domain":["2-μM Z944","Vehicle"],"range":["#1b1f80","#2e9c2e"]},
      "legend":{"orient":"none","legendX":21,"legendY":118,"title":null,"symbolType":"M-3.6,0L3.6,0M0.7,0A0.7,0.7,0,1,1,-0.7,0A0.7,0.7,0,1,1,0.7,0","symbolSize":100,"labelOffset":20,"rowPadding":5}}}}
  ]}
],"spacing":33,"bounds":"flush","resolve":{"scale":{"color":"independent"},"legend":{"color":"independent"}}}
]
}
